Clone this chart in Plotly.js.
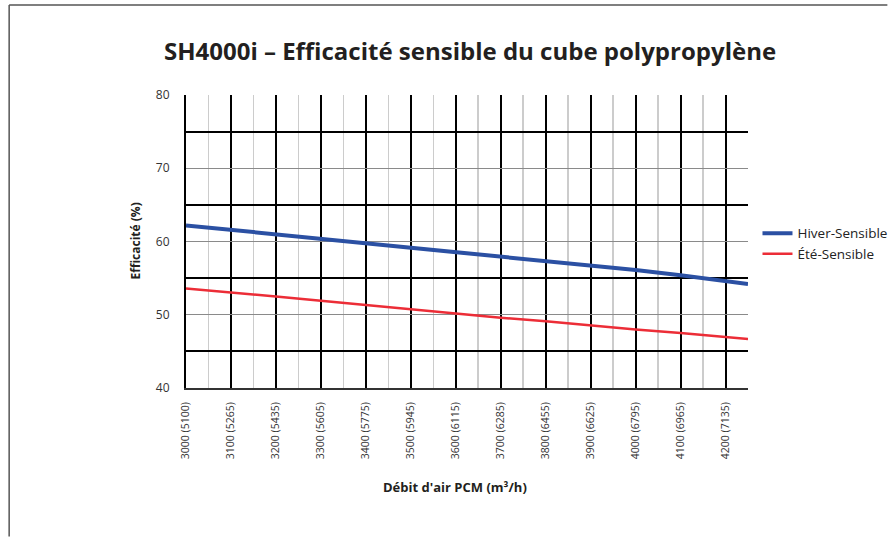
<!DOCTYPE html>
<html>
<head>
<meta charset="utf-8">
<script src="https://cdn.plot.ly/plotly-3.0.1.min.js"></script>
<style>
  html, body { margin: 0; padding: 0; background: #fff; }
  #chart { width: 888px; height: 537px; }
</style>
</head>
<body>
<div id="chart"></div>
<script>
// ---- data ----
const airflowCFM = [3000, 3100, 3200, 3300, 3400, 3500, 3600, 3700, 3800, 3900, 4000, 4100, 4200, 4250];
const hiverSensible = [62.2, 61.6, 61.0, 60.4, 59.8, 59.2, 58.5, 57.9, 57.3, 56.7, 56.1, 55.4, 54.6, 54.2];
const eteSensible   = [53.6, 53.1, 52.5, 51.9, 51.3, 50.8, 50.2, 49.6, 49.1, 48.5, 48.0, 47.5, 47.0, 46.7];
const tickCFM = [3000, 3100, 3200, 3300, 3400, 3500, 3600, 3700, 3800, 3900, 4000, 4100, 4200];
const tickM3h = [5100, 5265, 5435, 5605, 5775, 5945, 6115, 6285, 6455, 6625, 6795, 6965, 7135];
const tickText = tickCFM.map((v, i) => v + ' (' + tickM3h[i] + ')');

const FONT = '"Open Sans", "Noto Sans", sans-serif';

const traces = [
  {
    x: airflowCFM, y: hiverSensible, name: 'Hiver-Sensible', mode: 'lines',
    line: { color: '#2b50a3', width: 4 }, legendgroup: 'a'
  },
  {
    x: airflowCFM, y: eteSensible, name: 'Été-Sensible', mode: 'lines',
    line: { color: '#ec2d37', width: 2.5 }, legendgroup: 'b'
  }
];

// plot area in pixels: x 186..748.5, y 95..388.3
const L = 186, R = 888 - 748.5, T = 95, B = 537 - 388.3;
const PW = 888 - L - R, PH = 537 - T - B;
const px = v => (v - L) / PW;
const py = v => (537 - B - v) / PH;

const layout = {
  width: 888, height: 537,
  margin: { l: L, r: R, t: T, b: B, pad: 0, autoexpand: false },
  paper_bgcolor: '#fff', plot_bgcolor: '#fff',
  font: { family: FONT, color: '#333' },
  title: {
    text: '<b>SH4000i – Efficacité sensible du cube polypropylène</b>',
    font: { family: FONT, size: 24, color: '#231f20' },
    x: 470 / 888, xanchor: 'center', xref: 'container',
    y: 1 - 52 / 537, yanchor: 'middle', yref: 'container'
  },
  xaxis: {
    range: [3000, 4250],
    tickvals: tickCFM, ticktext: tickText, tickangle: -90,
    tickfont: { family: FONT, size: 10.5, color: '#333' },
    ticks: '', ticklabelstandoff: 8,
    showgrid: true, gridcolor: '#000', gridwidth: 2,
    minor: { dtick: 50, tick0: 3000, showgrid: true, gridcolor: '#cccccc', gridwidth: 1.5, ticks: '' },
    showline: true, linecolor: '#333', linewidth: 2,
    zeroline: false, fixedrange: true
  },
  yaxis: {
    range: [40, 80], dtick: 10, tick0: 40,
    tickfont: { family: FONT, size: 12, color: '#333' },
    ticks: '', ticklabelstandoff: 12,
    showgrid: true, gridcolor: '#8a8a8a', gridwidth: 1,
    minor: { dtick: 5, tick0: 40, showgrid: true, gridcolor: '#000', gridwidth: 2, ticks: '' },
    showline: true, linecolor: '#000', linewidth: 2,
    zeroline: false, fixedrange: true
  },
  showlegend: true,
  legend: {
    x: px(758), xanchor: 'left', y: py(218), yanchor: 'top',
    font: { family: FONT, size: 13.5, color: '#222' },
    bgcolor: 'rgba(0,0,0,0)', borderwidth: 0,
    tracegroupgap: 6, traceorder: 'normal'
  },
  annotations: [
    {
      text: '<b>Efficacité (%)</b>', textangle: -90,
      xref: 'paper', yref: 'paper', x: px(135), y: 0.5,
      xanchor: 'center', yanchor: 'middle', showarrow: false,
      font: { family: FONT, size: 12, color: '#231f20' }
    },
    {
      text: "<b>Débit d'air PCM (m³/h)</b>",
      xref: 'paper', yref: 'paper', x: px(455), y: py(487),
      xanchor: 'center', yanchor: 'middle', showarrow: false,
      font: { family: FONT, size: 13, color: '#231f20' }
    }
  ],
  shapes: [
    { type: 'line', xref: 'paper', yref: 'paper', x0: px(9), x1: px(888), y0: py(5), y1: py(5),
      line: { color: '#555', width: 1.5 } },
    { type: 'line', xref: 'paper', yref: 'paper', x0: px(9), x1: px(9), y0: py(5), y1: py(537),
      line: { color: '#555', width: 1.5 } }
  ]
};

Plotly.newPlot('chart', traces, layout, { displayModeBar: false, staticPlot: true });
</script>
</body>
</html>
